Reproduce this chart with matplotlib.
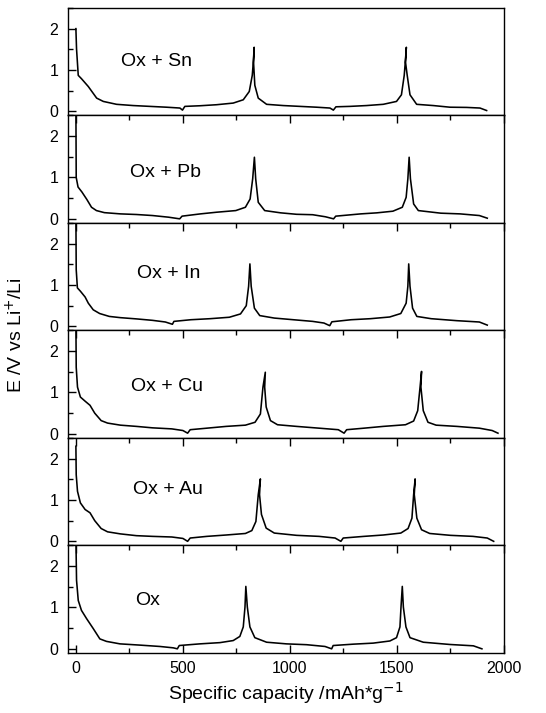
import matplotlib
matplotlib.use('Agg')
import matplotlib.pyplot as plt
from matplotlib.ticker import MultipleLocator

plt.rcParams['font.family'] = ['Liberation Sans', 'DejaVu Sans']

# ============================================================
# DU LIEU: dung luong (mAh/g) va dien the (V) cho tung mau
# ============================================================
labels = ["Ox + Sn", "Ox + Pb", "Ox + In", "Ox + Cu", "Ox + Au", "Ox"]

cap_sn = [0, 0, 3, 11, 26, 58, 97, 128, 190, 268, 346, 424, 486, 498, 509, 579, 657, 735, 782,
          810, 824, 829, 833, 830, 836, 852, 891, 969, 1047, 1125, 1187, 1203, 1215, 1280, 1358,
          1436, 1498, 1521, 1534, 1539, 1544, 1540, 1548, 1561, 1592, 1670, 1748, 1826, 1888, 1919]
volt_sn = [2.0, 2.0, 1.51, 0.87, 0.79, 0.60, 0.32, 0.24, 0.17, 0.14, 0.12, 0.10, 0.08, 0.03, 0.12,
           0.135, 0.16, 0.20, 0.28, 0.48, 0.87, 1.19, 1.55, 1.19, 0.63, 0.32, 0.17, 0.14, 0.12, 0.10,
           0.08, 0.03, 0.11, 0.12, 0.14, 0.17, 0.24, 0.40, 0.87, 1.19, 1.55, 1.19, 0.87, 0.40, 0.17,
           0.14, 0.10, 0.095, 0.08, 0.02]

cap_pb = [0, 1.5, 10, 28, 51, 73, 96, 133, 208, 283, 358, 433, 485, 496, 582, 657, 747, 792, 814,
          826, 834, 840, 852, 882, 957, 1031, 1106, 1166, 1204, 1214, 1331, 1406, 1481, 1525, 1543,
          1551, 1557, 1563, 1578, 1600, 1705, 1795, 1885, 1922]
volt_pb = [2.7, 1.0, 0.77, 0.65, 0.47, 0.28, 0.20, 0.15, 0.12, 0.105, 0.08, 0.04, 0.0, 0.065, 0.12,
           0.16, 0.20, 0.28, 0.48, 0.97, 1.49, 0.97, 0.40, 0.20, 0.145, 0.11, 0.10, 0.05, 0.0, 0.065,
           0.12, 0.145, 0.185, 0.28, 0.52, 0.97, 1.49, 0.97, 0.36, 0.20, 0.137, 0.12, 0.08, 0.016]

cap_in = [0, 1.5, 7, 21, 43, 58, 81, 111, 156, 208, 283, 358, 418, 451, 458, 537, 627, 717, 769,
          796, 807, 813, 819, 834, 859, 927, 1016, 1106, 1159, 1186, 1196, 1286, 1376, 1466, 1518,
          1543, 1551, 1555, 1561, 1573, 1593, 1660, 1780, 1885, 1922]
volt_in = [2.7, 1.37, 0.93, 0.85, 0.71, 0.56, 0.40, 0.31, 0.24, 0.21, 0.18, 0.145, 0.105, 0.05, 0.12,
           0.16, 0.185, 0.22, 0.30, 0.50, 0.97, 1.51, 0.97, 0.44, 0.26, 0.20, 0.16, 0.12, 0.08, 0.016,
           0.11, 0.16, 0.185, 0.226, 0.31, 0.56, 0.97, 1.51, 0.97, 0.44, 0.24, 0.185, 0.137, 0.105, 0.03]

cap_cu = [0, 1.5, 7.5, 21, 43, 66, 88, 118, 148, 208, 283, 358, 448, 500, 522, 534, 612, 702, 792,
          837, 862, 874, 885, 882, 889, 909, 942, 1031, 1136, 1226, 1253, 1265, 1346, 1436, 1540,
          1578, 1597, 1608, 1615, 1612, 1623, 1645, 1683, 1780, 1885, 1945, 1972]
volt_cu = [2.7, 1.61, 1.13, 0.89, 0.79, 0.69, 0.50, 0.32, 0.26, 0.21, 0.18, 0.145, 0.12, 0.08, 0.016,
           0.10, 0.137, 0.18, 0.21, 0.28, 0.48, 1.13, 1.49, 1.13, 0.65, 0.32, 0.22, 0.18, 0.137, 0.10,
           0.016, 0.10, 0.137, 0.18, 0.22, 0.31, 0.56, 1.13, 1.51, 1.13, 0.56, 0.28, 0.21, 0.18, 0.137,
           0.08, 0.016]

cap_au = [0, 1.5, 7.5, 21, 43, 66, 88, 118, 148, 208, 283, 358, 448, 500, 522, 534, 612, 702, 792,
          822, 841, 852, 862, 858, 867, 889, 927, 1031, 1136, 1211, 1238, 1249, 1346, 1436, 1518,
          1552, 1570, 1578, 1585, 1581, 1593, 1615, 1653, 1750, 1855, 1922, 1952]
volt_au = [2.3, 1.61, 1.21, 0.93, 0.77, 0.69, 0.50, 0.31, 0.23, 0.18, 0.137, 0.12, 0.105, 0.07, 0.0,
           0.08, 0.12, 0.153, 0.19, 0.26, 0.48, 1.13, 1.51, 1.13, 0.65, 0.32, 0.20, 0.145, 0.12, 0.08,
           0.0, 0.08, 0.12, 0.153, 0.20, 0.31, 0.56, 1.13, 1.51, 1.13, 0.56, 0.28, 0.19, 0.145, 0.12,
           0.08, 0.0]

cap_ox = [0, 3, 11, 26, 50, 81, 112, 143, 206, 299, 393, 455, 474, 483, 579, 673, 735, 766, 782,
          790, 794, 801, 813, 836, 891, 984, 1078, 1164, 1195, 1202, 1296, 1389, 1467, 1498, 1514,
          1519, 1525, 1530, 1542, 1561, 1623, 1748, 1857, 1897]
volt_ox = [2.7, 1.66, 1.17, 0.93, 0.73, 0.49, 0.24, 0.18, 0.12, 0.09, 0.057, 0.024, 0.0, 0.08, 0.12,
           0.15, 0.20, 0.30, 0.53, 1.01, 1.51, 1.01, 0.53, 0.27, 0.16, 0.12, 0.10, 0.057, 0.0, 0.08,
           0.113, 0.138, 0.19, 0.27, 0.53, 1.01, 1.51, 1.01, 0.53, 0.27, 0.16, 0.105, 0.073, 0.0]

caps = [cap_sn, cap_pb, cap_in, cap_cu, cap_au, cap_ox]
volts = [volt_sn, volt_pb, volt_in, volt_cu, volt_au, volt_ox]

# vi tri nhan trong tung o (don vi du lieu)
label_x = [210, 252, 285, 257, 266, 276]
label_y = [1.21, 1.13, 1.29, 1.14, 1.26, 1.17]

# ============================================================
# VE HINH
# ============================================================
fig, axes = plt.subplots(6, 1, figsize=(5.46, 7.13), dpi=100, sharex=True)
fig.subplots_adjust(left=0.1245, right=0.923, top=0.9888, bottom=0.0842, hspace=0)

for i, ax in enumerate(axes):
    ax.plot(caps[i], volts[i], color='black', linewidth=1.15)
    ax.set_xlim(-37, 2000)
    ax.set_ylim(-0.1, 2.5)
    ax.text(label_x[i], label_y[i], labels[i], fontsize=14, va='center', ha='left')

    ax.yaxis.set_major_locator(MultipleLocator(1))
    ax.yaxis.set_minor_locator(MultipleLocator(0.5))
    ax.xaxis.set_major_locator(MultipleLocator(500))
    ax.xaxis.set_minor_locator(MultipleLocator(250))
    ax.tick_params(axis='y', which='both', direction='in', left=True, right=False,
                   labelsize=11.5, pad=7)
    ax.tick_params(axis='y', which='major', length=6, width=1)
    ax.tick_params(axis='y', which='minor', length=3.5, width=1)
    # tick truc x: huong vao trong, o canh tren (tru o dau) va canh duoi o cuoi
    ax.tick_params(axis='x', which='both', direction='in', top=(i > 0), bottom=(i == len(axes) - 1),
                   labelbottom=(i == len(axes) - 1), labelsize=11.5, pad=6)
    ax.tick_params(axis='x', which='major', length=6, width=1)
    ax.tick_params(axis='x', which='minor', length=3.5, width=1)
    for sp in ax.spines.values():
        sp.set_linewidth(1.0)

axes[-1].set_xlabel("Specific capacity /mAh*g$^{-1}$", fontsize=14, labelpad=3)
fig.text(0.028, 0.53, "E /V vs Li$^{+}$/Li", rotation=90, fontsize=14, ha='center', va='center')

fig.savefig("out.png", dpi=100)
